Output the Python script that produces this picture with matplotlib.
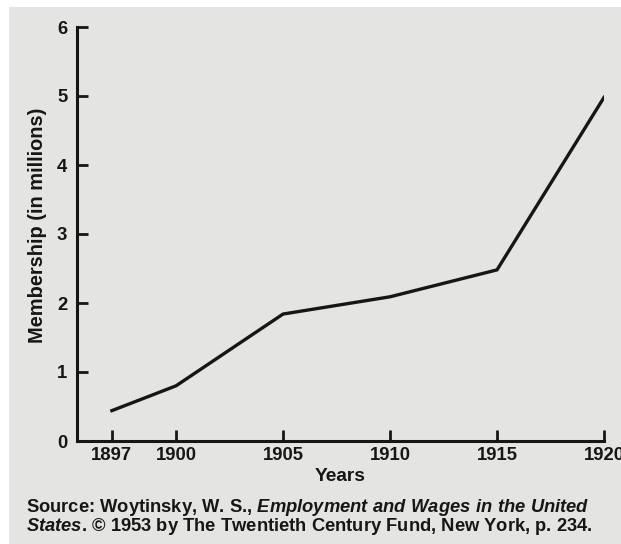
import matplotlib.pyplot as plt
from matplotlib.patches import Rectangle

# union membership by year (millions)
years = [1897, 1900, 1905, 1910, 1915, 1920]
members = [0.44, 0.80, 1.84, 2.09, 2.48, 4.98]
y_ticks = [0, 1, 2, 3, 4, 5, 6]

paper = '#e4e4e2'
ink = '#161616'
plt.rcParams['font.family'] = ['Liberation Sans', 'DejaVu Sans']
plt.rcParams['font.weight'] = 'bold'
plt.rcParams['mathtext.fontset'] = 'custom'
plt.rcParams['mathtext.it'] = 'Liberation Sans:italic:bold'
plt.rcParams['mathtext.rm'] = 'Liberation Sans:bold'

fig = plt.figure(figsize=(6.21, 5.44), dpi=100, facecolor='white')
# scanned page area, white strip on top and left
fig.patches.append(Rectangle((9 / 621, 0), 1, 1 - 7 / 544, transform=fig.transFigure,
                             facecolor=paper, edgecolor='none', zorder=-1))

ax = fig.add_axes([77 / 621, 1 - 441 / 544, (604 - 77) / 621, (441 - 27) / 544])
ax.set_facecolor('none')
ax.plot(years, members, color=ink, lw=2.4, solid_joinstyle='miter')

ax.set_xlim(1895.37, 1920)
ax.set_ylim(0, 6)
ax.set_xticks(years)
ax.set_yticks(y_ticks)
for s in ['top', 'right']:
    ax.spines[s].set_visible(False)
for s in ['left', 'bottom']:
    ax.spines[s].set_linewidth(2.2)
    ax.spines[s].set_color(ink)
ax.tick_params(direction='in', length=8, width=2, color=ink,
               labelsize=13.3, labelcolor=ink)
ax.tick_params(axis='x', pad=4)
ax.tick_params(axis='y', pad=7)
for lab in ax.get_xticklabels():
    lab.set_clip_on(False)

ax.set_xlabel('Years', fontsize=13.8, fontweight='bold', color=ink, labelpad=3)
ax.set_ylabel('Membership (in millions)', fontsize=14.4, fontweight='bold', color=ink)
ax.yaxis.set_label_coords(-0.057, 0.522)

fig.text(26 / 621, 1 - 512 / 544, r'Source: Woytinsky, W. S., $\it{Employment\ and\ Wages\ in\ the\ United}$',
         fontsize=13.2, color=ink, va='baseline')
fig.text(26 / 621, 1 - 531 / 544, r'$\it{States}$. © 1953 by The Twentieth Century Fund, New York, p. 234.',
         fontsize=13.2, color=ink, va='baseline')

fig.savefig('out.png', dpi=100, facecolor=fig.get_facecolor())
